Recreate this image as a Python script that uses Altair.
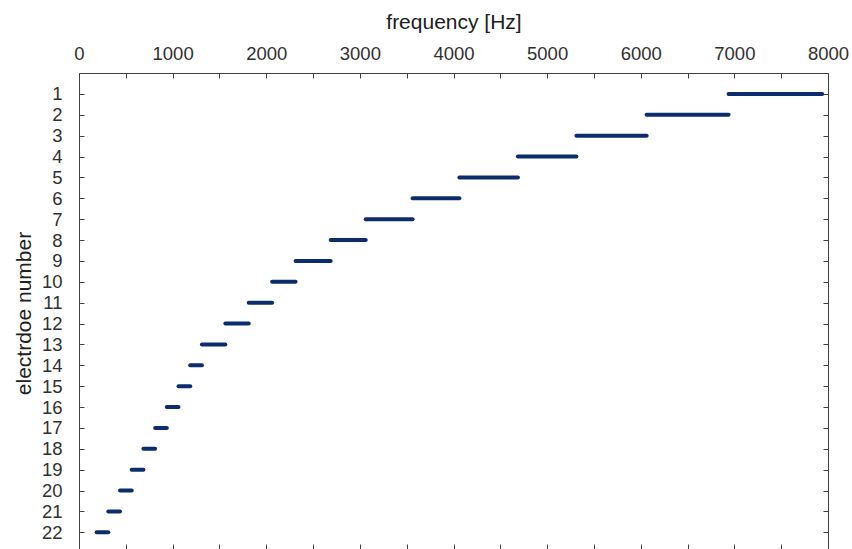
import altair as alt
import pandas as pd

# Frequency band assigned to each electrode (Hz)
electrodes = list(range(1, 23))
low_hz = [6938, 6063, 5313, 4688, 4063, 3563, 3063, 2688, 2313, 2063, 1813,
          1563, 1313, 1188, 1063, 938, 813, 688, 563, 438, 313, 188]
high_hz = [7938, 6938, 6063, 5313, 4688, 4063, 3563, 3063, 2688, 2313, 2063,
           1813, 1563, 1313, 1188, 1063, 938, 813, 688, 563, 438, 313]
freq_ticks = list(range(0, 8001, 500))

df = pd.DataFrame({"electrode": electrodes, "lo": low_hz, "hi": high_hz})

AXIS_GREY = "#404040"
TEXT_GREY = "#303030"
BAND_BLUE = "#0c2c6c"
FONT = "Liberation Sans"

x_scale = alt.Scale(domain=[0, 8000], nice=False, zero=False)
y_scale = alt.Scale(domain=[0, 22.8], reverse=True, nice=False, zero=False)

# inward-pointing ticks: shift each axis 5px inside the frame
axis_style = dict(
    domain=False, grid=False, tickSize=5, offset=-5, tickColor=AXIS_GREY,
    tickWidth=1, labelFont=FONT, labelFontSize=18.5, labelColor=TEXT_GREY,
    labelFlush=False, labelOverlap=False,
    titleFont=FONT, titleFontSize=21, titleFontWeight="normal", titleColor="#202020",
)

bands = alt.Chart(df).mark_rule(strokeWidth=4, strokeCap="round", color=BAND_BLUE).encode(
    x=alt.X(
        "lo:Q", scale=x_scale,
        axis=alt.Axis(
            orient="top", values=freq_ticks, format="d",
            labelExpr="datum.value % 1000 == 0 ? datum.label : ''",
            labelPadding=10, title="frequency [Hz]",
            titleBaseline="alphabetic", titleY=-50, **axis_style,
        ),
    ),
    x2="hi:Q",
    y=alt.Y(
        "electrode:Q", scale=y_scale,
        axis=alt.Axis(
            orient="left", values=electrodes, format="d", labelPadding=17,
            title="electrdoe number", titleAngle=270, titleBaseline="alphabetic",
            titleX=-54, titleY=240, **axis_style,
        ),
    ),
)

# invisible copy that carries the bottom and right tick marks
mirror = alt.Chart(df).mark_rule(opacity=0).encode(
    x=alt.X(
        "lo:Q", scale=x_scale,
        axis=alt.Axis(orient="bottom", values=freq_ticks, labels=False, title="", **axis_style),
    ),
    x2="hi:Q",
    y=alt.Y(
        "electrode:Q", scale=y_scale,
        axis=alt.Axis(orient="right", values=electrodes, labels=False, title="", **axis_style),
    ),
)

chart = (
    alt.layer(bands, mirror)
    .resolve_axis(x="independent", y="independent")
    .properties(
        width=749, height=476,
        padding={"left": 79, "top": 73, "right": 24, "bottom": 0},
        autosize=alt.AutoSizeParams(type="none"),
    )
    .configure_view(stroke=AXIS_GREY, strokeWidth=1)
)

chart.save("out.html", embed_options={"renderer": "svg", "actions": False})
